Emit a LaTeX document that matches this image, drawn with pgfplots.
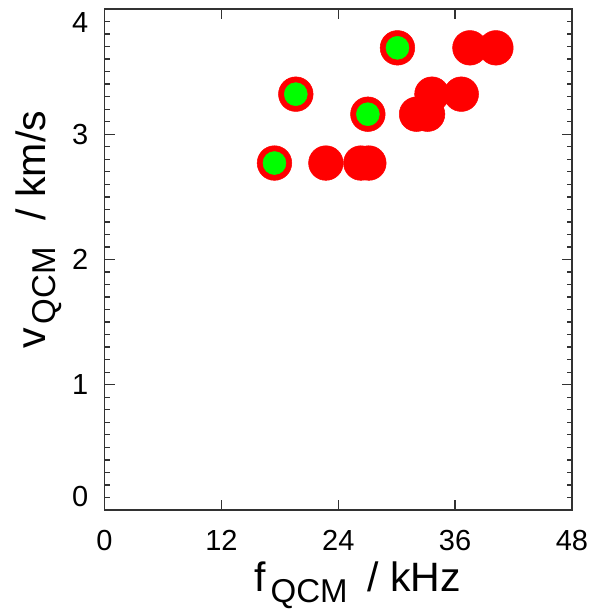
\documentclass[border=0pt]{standalone}
\usepackage{fontspec}
\setmainfont{Liberation Sans}
\usepackage{pgfplots}
\pgfplotsset{compat=1.18}
\definecolor{axgray}{RGB}{50,50,50}
\definecolor{ptred}{RGB}{255,0,0}
\definecolor{ptgreen}{RGB}{0,255,0}
\begin{document}
\begin{tikzpicture}
\useasboundingbox (-104.5pt,-99pt) rectangle (483.5pt,509.7pt);
\begin{axis}[
  at={(0pt,0pt)}, anchor=south west,
  scale only axis, width=467.2pt, height=500.7pt,
  xmin=0, xmax=48, ymin=0, ymax=4,
  xtick={0,12,24,36,48},
  ytick={0,1,2,3,4},
  yticklabels={\raisebox{13pt}[\height][\depth]{0},1,2,3,\raisebox{-14pt}[\height][\depth]{4}},
  minor y tick num=9,
  xtick pos=both, ytick pos=both,
  tick align=inside,
  major tick length=10pt, minor tick length=5pt,
  axis line style={axgray, line width=1.3pt},
  every tick/.style={axgray, line width=1.3pt},
  /pgf/number format/assume math mode=true,
  ticklabel style={font=\fontsize{29}{29}\selectfont, text=black},
  yticklabel style={inner sep=0pt, xshift=-16pt},
  xticklabel style={inner sep=0pt, yshift=-20pt},
  xlabel={f\hspace{5pt}\raisebox{-11pt}{\fontsize{33}{33}\selectfont QCM}\hspace{20pt}/ kHz},
  xlabel style={font=\fontsize{41}{41}\selectfont, at={(axis description cs:0.5415,0)}, anchor=base, yshift=-82pt, inner sep=0pt},
  ylabel={v\hspace{4pt}\raisebox{-10pt}{\fontsize{33}{33}\selectfont QCM}\hspace{27pt}/ km/s},
  ylabel style={font=\fontsize{41}{41}\selectfont, at={(axis description cs:-0.1274,0.559)}, anchor=base, inner sep=0pt},
  clip=false,
]
\addplot[only marks, color=ptred, mark=*, mark size=17.3pt, mark options={draw=ptred, fill=ptred, line width=0.5pt}] coordinates {
  (17.45,2.77) (19.64,3.32) (27.04,3.16) (30.08,3.69)
  (22.73,2.77) (26.32,2.77) (27.14,2.77)
  (32.04,3.16) (33.17,3.16)
  (33.62,3.32) (36.63,3.32)
  (37.52,3.69) (40.19,3.69)
};
\addplot[only marks, color=ptgreen, mark=*, mark size=11.5pt, mark options={draw=ptgreen, fill=ptgreen, line width=0.5pt}] coordinates {
  (17.45,2.77) (19.64,3.32) (27.04,3.16) (30.08,3.69)
};
\end{axis}
\end{tikzpicture}
\end{document}
